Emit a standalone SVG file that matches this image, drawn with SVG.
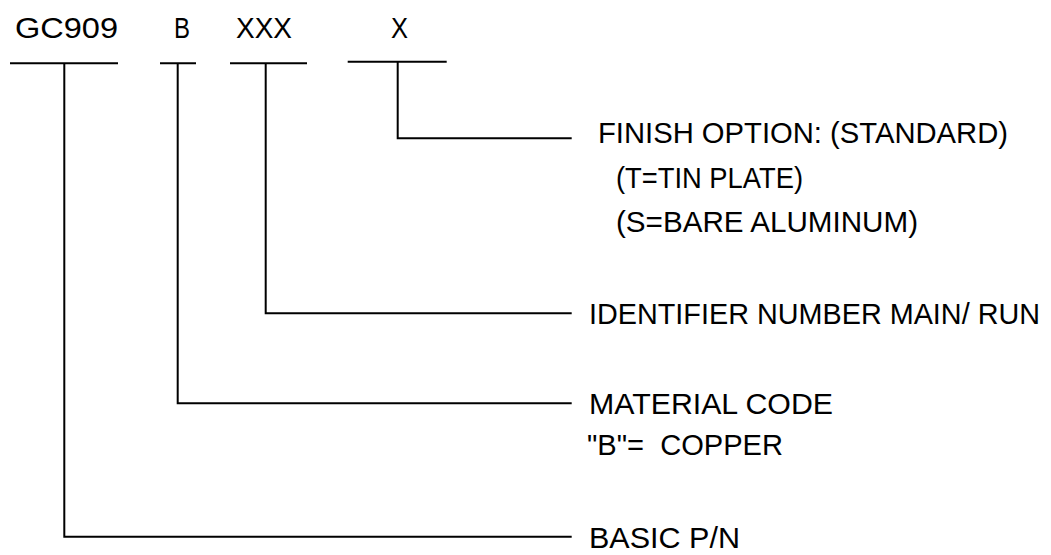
<svg xmlns="http://www.w3.org/2000/svg" width="1051" height="555" viewBox="0 0 1051 555">
<style>
.t{font-family:"Liberation Sans",Arial,sans-serif;font-size:30px;fill:#000}
.ln{fill:none;stroke:#000;stroke-width:2}
</style>
<rect width="1051" height="555" fill="#fff"/>
<g id="part-code">
<text class="t" x="15" y="38.3" textLength="103" lengthAdjust="spacingAndGlyphs">GC909</text>
<text class="t" x="174" y="38.3" textLength="16" lengthAdjust="spacingAndGlyphs">B</text>
<text class="t" x="236" y="38.3" textLength="56" lengthAdjust="spacingAndGlyphs">XXX</text>
<text class="t" x="391" y="38.3" textLength="17" lengthAdjust="spacingAndGlyphs">X</text>
</g>
<g id="connectors">
<line class="ln" x1="10" y1="63.3" x2="118" y2="63.3"/>
<line class="ln" x1="160" y1="63.3" x2="196" y2="63.3"/>
<line class="ln" x1="230" y1="63.3" x2="307" y2="63.3"/>
<line class="ln" x1="347.7" y1="61.7" x2="446.7" y2="61.7"/>
<polyline class="ln" points="397.7,61.7 397.7,138.3 571.7,138.3"/>
<polyline class="ln" points="265.7,63.3 265.7,313.3 571.7,313.3"/>
<polyline class="ln" points="177.7,63.3 177.7,403.3 571.7,403.3"/>
<polyline class="ln" points="64.3,63.3 64.3,536.7 571.7,536.7"/>
</g>
<g id="finish-option">
<text class="t" x="598" y="143" textLength="410" lengthAdjust="spacingAndGlyphs">FINISH OPTION: (STANDARD)</text>
<text class="t" x="616" y="187.7" textLength="187" lengthAdjust="spacingAndGlyphs">(T=TIN PLATE)</text>
<text class="t" x="616" y="232" textLength="302" lengthAdjust="spacingAndGlyphs">(S=BARE ALUMINUM)</text>
</g>
<g id="identifier">
<text class="t" x="589" y="324.3" font-size="29" style="font-size:29px" textLength="451" lengthAdjust="spacingAndGlyphs">IDENTIFIER NUMBER MAIN/ RUN</text>
</g>
<g id="material">
<text class="t" x="589" y="413.5" textLength="244" lengthAdjust="spacingAndGlyphs">MATERIAL CODE</text>
<text class="t" x="587" y="455" textLength="196" lengthAdjust="spacingAndGlyphs" xml:space="preserve">"B"=  COPPER</text>
</g>
<g id="basic">
<text class="t" x="589" y="548.3" textLength="151" lengthAdjust="spacingAndGlyphs">BASIC P/N</text>
</g>
</svg>
